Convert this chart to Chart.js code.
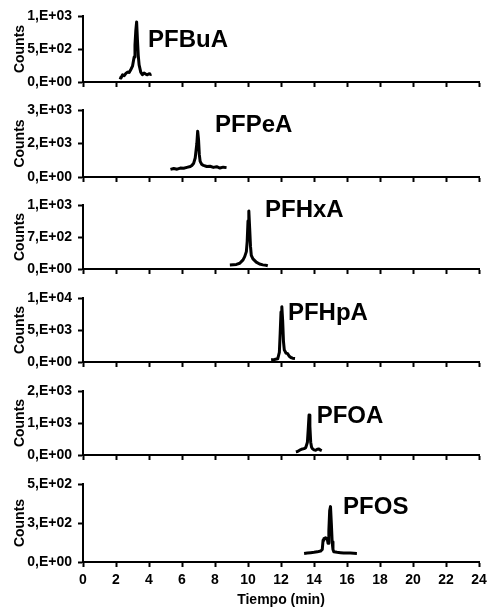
<!DOCTYPE html>
<html>
<head>
<meta charset="utf-8">
<script src="https://cdn.jsdelivr.net/npm/chart.js@4/dist/chart.umd.min.js"></script>
<style>
  body { margin: 0; background: #fff; }
  #wrap { position: relative; width: 488px; height: 610px; background: #fff; }
  #wrap canvas { position: absolute; left: 0; }
</style>
</head>
<body>
<div id="wrap"></div>
<script>
// compuestos (un panel por compuesto)
const compounds = ['PFBuA', 'PFPeA', 'PFHxA', 'PFHpA', 'PFOA', 'PFOS'];

// eje x compartido
const xTicks = [0, 2, 4, 6, 8, 10, 12, 14, 16, 18, 20, 22, 24];

// escala y de cada panel (max) y etiquetas tal como aparecen
const yMax = [1000, 3000, 1400, 10000, 2000, 500];
const yTickLabels = [
  ['0,E+00', '5,E+02', '1,E+03'],
  ['0,E+00', '2,E+03', '3,E+03'],
  ['0,E+00', '7,E+02', '1,E+03'],
  ['0,E+00', '5,E+03', '1,E+04'],
  ['0,E+00', '1,E+03', '2,E+03'],
  ['0,E+00', '3,E+02', '5,E+02'],
];

// cromatogramas: tiempo (min) y cuentas
const pfbuaTime = [2.2, 2.3, 2.4, 2.5, 2.6, 2.7, 2.8, 2.9, 3.0, 3.1, 3.15, 3.2, 3.25, 3.3, 3.35, 3.4, 3.5, 3.6, 3.7, 3.8, 3.9, 4.0, 4.1, 4.15];
const pfbuaCounts = [70, 60, 110, 95, 130, 150, 145, 190, 240, 380, 560, 780, 910, 640, 400, 260, 150, 110, 135, 120, 110, 125, 115, 120];

const pfpeaTime = [5.3, 5.5, 5.7, 5.9, 6.1, 6.3, 6.5, 6.6, 6.7, 6.8, 6.9, 6.95, 7.0, 7.05, 7.1, 7.2, 7.3, 7.5, 7.7, 7.9, 8.1, 8.3, 8.5, 8.7];
const pfpeaCounts = [340, 380, 350, 400, 390, 430, 470, 520, 600, 850, 1500, 2050, 1700, 1000, 700, 560, 520, 470, 480, 430, 460, 400, 440, 420];

const pfhxaTime = [8.9, 9.1, 9.3, 9.5, 9.7, 9.8, 9.9, 9.95, 10.0, 10.05, 10.1, 10.15, 10.2, 10.3, 10.5, 10.7, 10.9, 11.1, 11.2];
const pfhxaCounts = [90, 95, 100, 125, 200, 270, 380, 600, 1050, 1270, 900, 500, 300, 220, 150, 110, 90, 80, 70];

const pfhpaTime = [11.4, 11.6, 11.8, 11.9, 11.95, 12.0, 12.05, 12.1, 12.15, 12.2, 12.3, 12.4, 12.5, 12.6, 12.7, 12.85];
const pfhpaCounts = [350, 400, 500, 1500, 4500, 7800, 8650, 6500, 3200, 1900, 1400, 1300, 900, 700, 600, 550];

const pfoaTime = [12.9, 13.0, 13.1, 13.2, 13.3, 13.4, 13.5, 13.6, 13.65, 13.7, 13.75, 13.8, 13.85, 13.9, 14.0, 14.1, 14.2, 14.3, 14.4, 14.47];
const pfoaCounts = [100, 110, 140, 170, 190, 200, 230, 400, 800, 1250, 900, 400, 250, 200, 160, 150, 180, 190, 150, 135];

const pfosTime = [13.4, 13.6, 13.8, 14.0, 14.2, 14.4, 14.5, 14.55, 14.6, 14.7, 14.8, 14.85, 14.9, 14.95, 15.0, 15.05, 15.1, 15.15, 15.2, 15.4, 15.6, 15.8, 16.0, 16.2, 16.4, 16.6];
const pfosCounts = [55, 58, 60, 62, 65, 70, 80, 140, 150, 155, 150, 120, 200, 330, 355, 250, 130, 80, 65, 62, 60, 58, 58, 57, 56, 55];

const times = [pfbuaTime, pfpeaTime, pfhxaTime, pfhpaTime, pfoaTime, pfosTime];
const counts = [pfbuaCounts, pfpeaCounts, pfhxaCounts, pfhpaCounts, pfoaCounts, pfosCounts];

// donde va el nombre de cada compuesto (en unidades de datos)
const labelX = [3.94, 8.0, 11.03, 12.42, 14.16, 15.76];
const labelY = [636, 2330, 1290, 7656, 1197, 352];

// layout: y del tick superior y del cero de cada panel
const panelTop = [16, 110, 205, 298, 391, 484];
const panelZero = [82, 177, 269, 362, 455, 562];

const FONT = "'Liberation Sans', Arial, sans-serif";

const nameLabel = {
  id: 'nameLabel',
  afterDatasetsDraw(chart, args, opts) {
    const { ctx, scales } = chart;
    ctx.save();
    ctx.font = 'bold 24px ' + FONT;
    ctx.fillStyle = '#000';
    ctx.textAlign = 'left';
    ctx.textBaseline = 'middle';
    ctx.fillText(opts.text, scales.x.getPixelForValue(opts.x), scales.y.getPixelForValue(opts.y));
    ctx.restore();
  },
};

const wrap = document.getElementById('wrap');

compounds.forEach((name, i) => {
  const last = i === compounds.length - 1;
  const bottomH = last ? 610 - panelZero[i] : 8;
  const canvas = document.createElement('canvas');
  canvas.width = 488;
  canvas.height = panelZero[i] - panelTop[i] + 10 + bottomH;
  canvas.style.top = (panelTop[i] - 10) + 'px';
  wrap.appendChild(canvas);

  new Chart(canvas, {
    type: 'line',
    data: {
      datasets: [{
        data: times[i].map((t, k) => ({ x: t, y: counts[i][k] })),
        borderColor: '#000',
        borderWidth: 3,
        borderJoinStyle: 'round',
        pointRadius: 0,
        tension: 0,
      }],
    },
    options: {
      responsive: false,
      animation: false,
      layout: { padding: { top: 10, right: 9, left: 0, bottom: 0 } },
      plugins: {
        legend: { display: false },
        tooltip: { enabled: false },
        nameLabel: { text: name, x: labelX[i], y: labelY[i] },
      },
      scales: {
        x: {
          type: 'linear',
          min: 0,
          max: 24,
          afterBuildTicks: (s) => { s.ticks = xTicks.map(v => ({ value: v })); },
          afterFit: (s) => { s.height = bottomH; s.paddingLeft = 0; s.paddingRight = 0; },
          grid: { drawOnChartArea: false, tickLength: 5, tickWidth: 2, tickColor: '#000' },
          border: { color: '#000', width: 2 },
          ticks: {
            display: last,
            padding: 5,
            color: '#000',
            font: { family: FONT, size: 14, weight: 'bold' },
            maxRotation: 0,
          },
          title: {
            display: last,
            text: 'Tiempo (min)',
            color: '#000',
            font: { family: FONT, size: 14, weight: 'bold' },
            padding: { top: 0, bottom: 1 },
          },
        },
        y: {
          min: 0,
          max: yMax[i],
          afterBuildTicks: (s) => { s.ticks = [0, yMax[i] / 2, yMax[i]].map(v => ({ value: v })); },
          // ancho fijo y sin relleno extra para que los paneles queden donde tocan
          afterFit: (s) => { s.width = 83; s.paddingTop = 0; s.paddingBottom = 0; },
          grid: { drawOnChartArea: false, tickLength: 5, tickWidth: 2, tickColor: '#000' },
          border: { color: '#000', width: 2 },
          ticks: {
            padding: 6,
            color: '#000',
            font: { family: FONT, size: 14, weight: 'bold' },
            callback: (v, idx) => yTickLabels[i][idx],
          },
          title: {
            display: true,
            text: 'Counts',
            color: '#000',
            font: { family: FONT, size: 14, weight: 'bold' },
            padding: { top: 12, bottom: 0 },
          },
        },
      },
    },
    plugins: [nameLabel],
  });
});
</script>
</body>
</html>
